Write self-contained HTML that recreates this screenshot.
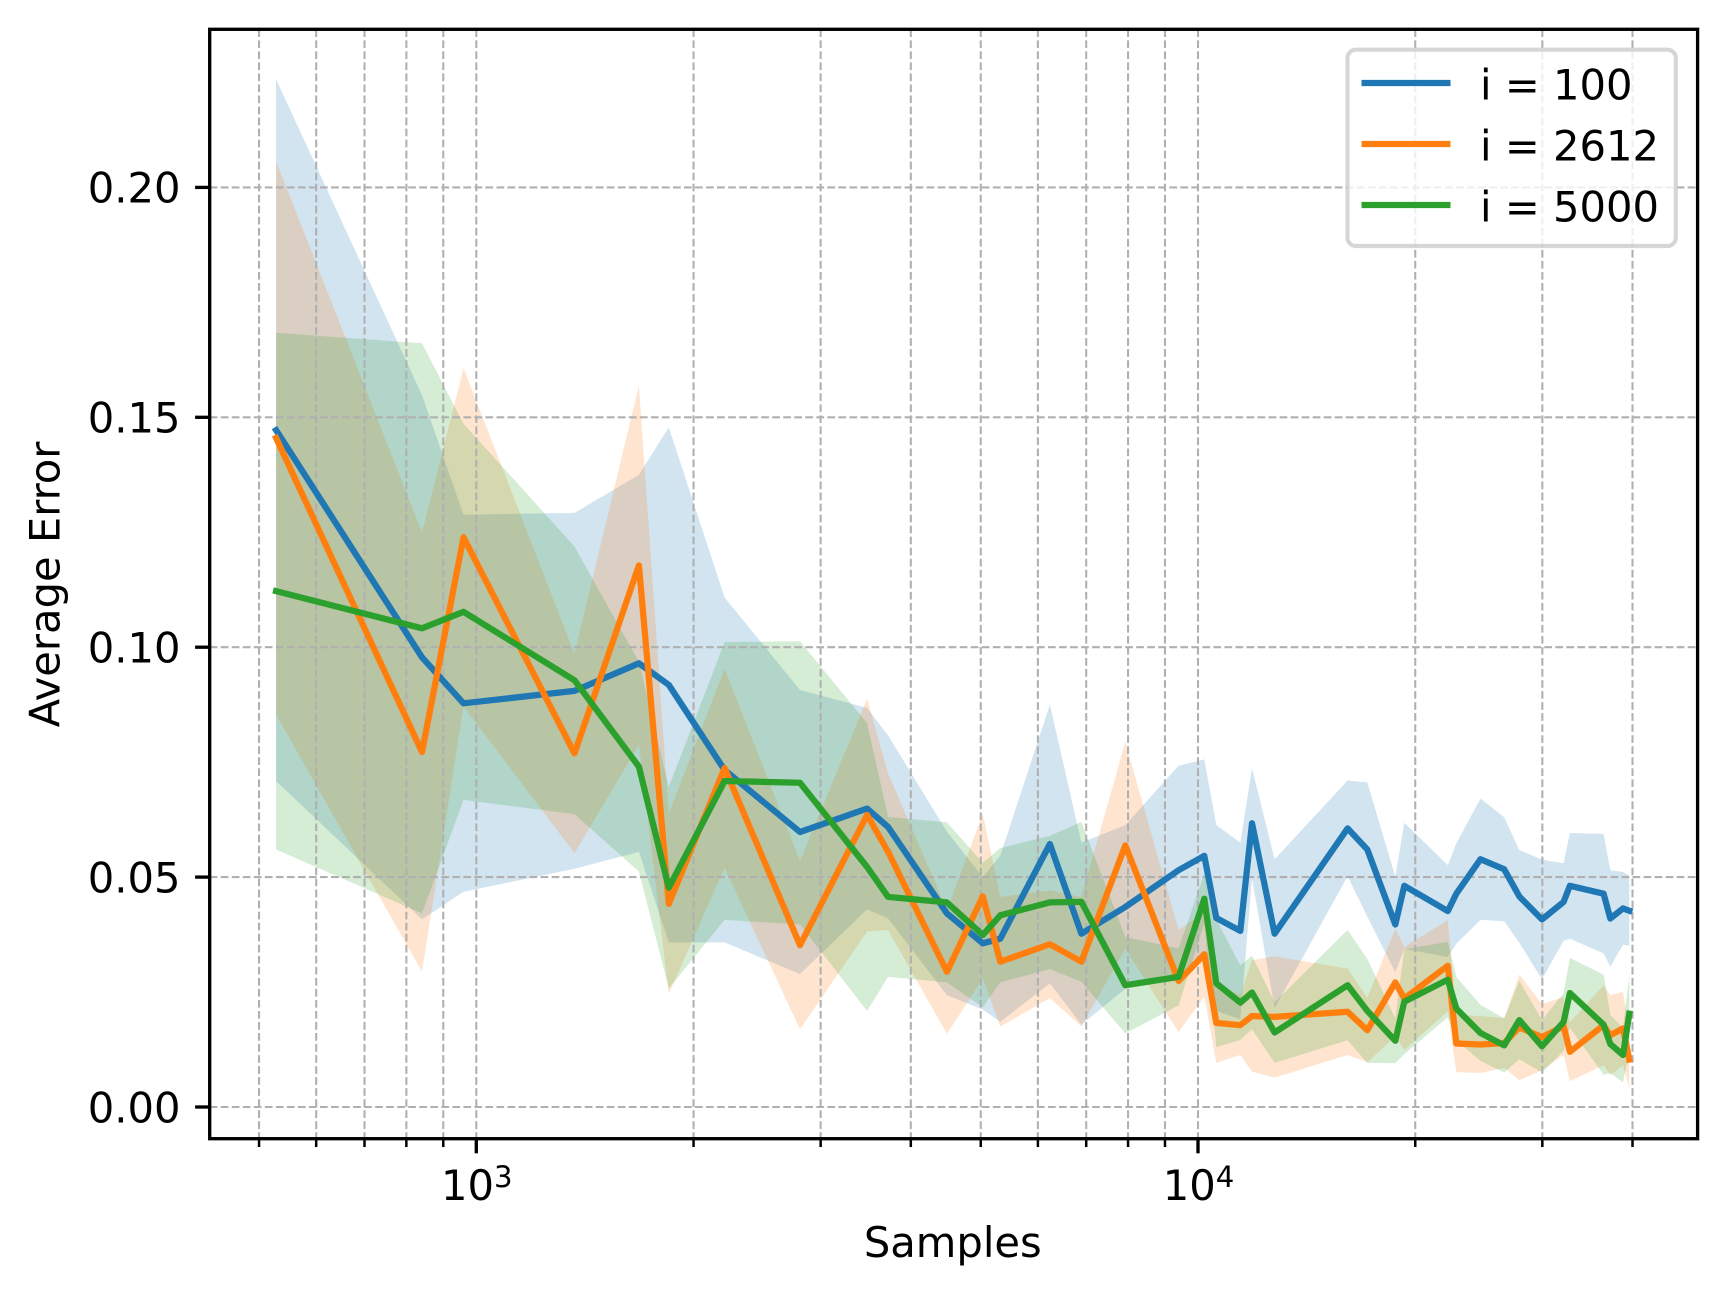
<!DOCTYPE html>
<html lang="en">
<head>
<meta charset="utf-8">
<title>Average Error vs Samples</title>
<style>
html,body{margin:0;padding:0;background:#fff;}
#chart{display:block;width:1726px;height:1295px;font-family:"DejaVu Sans","Liberation Sans",sans-serif;}
#chart text{fill:#000;font-size:41.67px;}
</style>
</head>
<body>
<svg id="chart" xmlns="http://www.w3.org/2000/svg" width="1726" height="1295" viewBox="0 0 1726 1295">
  <rect x="0" y="0" width="1726" height="1295" fill="#fff"/>
  <g id="bands"></g>
  <g id="grid"></g>
  <g id="lines"></g>
  <g id="ticks"></g>
  <rect x="209.7" y="29.3" width="1487.9" height="1109.4" fill="none" stroke="#000" stroke-width="3.33"/>
  <text x="952.8" y="1257" text-anchor="middle">Samples</text>
  <text x="59.5" y="584.5" text-anchor="middle" transform="rotate(-90 59.5 584.5)">Average Error</text>
  <g>
    <rect x="1347.5" y="49.7" width="328.3" height="196.3" rx="8.3" ry="8.3" fill="#fff" fill-opacity="0.8" stroke="#ccc" stroke-opacity="0.8" stroke-width="4.17"/>
    <line x1="1361.5" x2="1450.5" y1="83" y2="83" stroke="#1f77b4" stroke-width="6.25"/>
    <text x="1480" y="99.4">i = 100</text>
    <line x1="1361.5" x2="1450.5" y1="144" y2="144" stroke="#ff7f0e" stroke-width="6.25"/>
    <text x="1480" y="160.4">i = 2612</text>
    <line x1="1361.5" x2="1450.5" y1="205" y2="205" stroke="#2ca02c" stroke-width="6.25"/>
    <text x="1480" y="221.4">i = 5000</text>
  </g>
</svg>
<script>
const samples = [528,841,960,1368,1680,1848,2208,2809,3479,3720,4488,5033,5322,6235,6893,7930,9400,10202,10602,11444,11880,12769,16119,17163,18766,19315,22188,22798,24628,26567,27873,29970,32103,32761,36475,37265,38806,39590];

const meanI100 = [.1472,.0978,.0878,.0905,.0965,.0918,.0733,.0598,.0649,.0609,.0421,.0356,.0366,.0572,.0377,.0435,.0515,.0546,.0411,.0383,.0617,.0377,.0606,.0560,.0397,.0481,.0426,.0464,.0539,.0517,.0458,.0408,.0446,.0481,.0464,.0410,.0432,.0427];
const stdI100 = [.0763,.0570,.0410,.0387,.0410,.0560,.0375,.0309,.0219,.0199,.0178,.0144,.0181,.0303,.0198,.0178,.0227,.0210,.0202,.0192,.0120,.0162,.0104,.0146,.0104,.0137,.0100,.0109,.0132,.0113,.0101,.0130,.0084,.0115,.0130,.0105,.0079,.0076];

const meanI2612 = [.1455,.0772,.1239,.0769,.1178,.0442,.0737,.0352,.0635,.0555,.0294,.0458,.0316,.0354,.0316,.0569,.0274,.0332,.0183,.0178,.0198,.0196,.0207,.0167,.0271,.0236,.0307,.0138,.0136,.0139,.0173,.0152,.0176,.0120,.0178,.0156,.0171,.0103];
const stdI2612 = [.0602,.0478,.0368,.0217,.0391,.0196,.0217,.0183,.0253,.0170,.0135,.0179,.0141,.0117,.0141,.0225,.0111,.0092,.0087,.0065,.0121,.0132,.0094,.0070,.0117,.0112,.0099,.0062,.0062,.0054,.0115,.0072,.0063,.0064,.0087,.0087,.0080,.0063];

const meanI5000 = [.1122,.1041,.1077,.0928,.0740,.0477,.0709,.0705,.0522,.0457,.0445,.0374,.0417,.0445,.0446,.0265,.0283,.0453,.0269,.0227,.0249,.0162,.0265,.0209,.0144,.0229,.0277,.0214,.0161,.0134,.0189,.0132,.0185,.0248,.0179,.0137,.0113,.0203];
const stdI5000 = [.0562,.0620,.0409,.0291,.0228,.0219,.0302,.0308,.0313,.0174,.0174,.0157,.0146,.0145,.0174,.0105,.0062,.0054,.0139,.0081,.0080,.0066,.0120,.0113,.0049,.0114,.0082,.0069,.0061,.0059,.0085,.0057,.0063,.0076,.0109,.0063,.0059,.0083];

const yTickValues = [0, 0.05, 0.10, 0.15, 0.20];
const yTickLabels = ["0.00", "0.05", "0.10", "0.15", "0.20"];
const xMajorValues = [1000, 10000];
const xMajorBase = ["10", "10"];
const xMajorExponents = ["3", "4"];
const xMinorValues = [500,600,700,800,900,2000,3000,4000,5000,6000,7000,8000,9000,20000,30000,40000];

const SVG_NS = "http://www.w3.org/2000/svg";
const AXIS_LEFT = 209.7, AXIS_RIGHT = 1697.6, AXIS_TOP = 29.3, AXIS_BOTTOM = 1138.7;

function xScale(v) { return 476.3 + 721.7 * (Math.log10(v) - 3); }
function yScale(v) { return 1107 - 4598 * v; }

function make(tag, attrs, parent) {
  const node = document.createElementNS(SVG_NS, tag);
  for (const k in attrs) node.setAttribute(k, attrs[k]);
  parent.appendChild(node);
  return node;
}

const bandsG = document.getElementById("bands");
const gridG = document.getElementById("grid");
const linesG = document.getElementById("lines");
const ticksG = document.getElementById("ticks");
const gridStyle = { stroke: "#b0b0b0", "stroke-width": 2.08, "stroke-dasharray": "7.7 3.33", fill: "none" };

function drawSeries(key, color, means, stds) {
  const upper = means.map((m, i) => xScale(samples[i]).toFixed(1) + "," + yScale(m + stds[i]).toFixed(1));
  const lower = means.map((m, i) => xScale(samples[i]).toFixed(1) + "," + yScale(m - stds[i]).toFixed(1)).reverse();
  const band = make("polygon", { points: upper.concat(lower).join(" "), fill: color, "fill-opacity": 0.2, stroke: "none" }, bandsG);
  
  
  const pts = means.map((m, i) => xScale(samples[i]).toFixed(1) + "," + yScale(m).toFixed(1)).join(" ");
  return function () {
    const line = make("polyline", { points: pts, fill: "none", stroke: color, "stroke-width": 6.25, "stroke-linejoin": "round", "stroke-linecap": "square" }, linesG);
    
    
  };
}

const drawBlue = drawSeries("i-100", "#1f77b4", meanI100, stdI100);
const drawOrange = drawSeries("i-2612", "#ff7f0e", meanI2612, stdI2612);
const drawGreen = drawSeries("i-5000", "#2ca02c", meanI5000, stdI5000);
drawBlue();
drawOrange();
drawGreen();

yTickValues.forEach(function (v, i) {
  const y = yScale(v);
  const gl = make("line", Object.assign({ x1: AXIS_LEFT, x2: AXIS_RIGHT, y1: y, y2: y }, gridStyle), gridG);
  
  
  const t = make("line", { x1: AXIS_LEFT - 14.6, x2: AXIS_LEFT, y1: y, y2: y, stroke: "#000", "stroke-width": 3.33 }, ticksG);
  
  
  const lab = make("text", { x: 180.5, y: y + 15.3, "text-anchor": "end" }, ticksG);
  lab.textContent = yTickLabels[i];
  
  
});

xMinorValues.forEach(function (v) {
  const x = xScale(v);
  const gl = make("line", Object.assign({ x1: x, x2: x, y1: AXIS_TOP, y2: AXIS_BOTTOM }, gridStyle), gridG);
  
  
  const t = make("line", { x1: x, x2: x, y1: AXIS_BOTTOM, y2: AXIS_BOTTOM + 8.33, stroke: "#000", "stroke-width": 2.5 }, ticksG);
  
  
});

xMajorValues.forEach(function (v, i) {
  const x = xScale(v);
  const gl = make("line", Object.assign({ x1: x, x2: x, y1: AXIS_TOP, y2: AXIS_BOTTOM }, gridStyle), gridG);
  
  
  const t = make("line", { x1: x, x2: x, y1: AXIS_BOTTOM, y2: AXIS_BOTTOM + 14.6, stroke: "#000", "stroke-width": 3.33 }, ticksG);
  
  
  const lab = make("text", { x: x - 35.3, y: 1200 }, ticksG);
  lab.textContent = xMajorBase[i];
  
  
  const sup = make("text", { x: x + 17.7, y: 1187, style: "font-size:29.17px" }, ticksG);
  sup.textContent = xMajorExponents[i];
  
  
});
</script>
</body>
</html>
